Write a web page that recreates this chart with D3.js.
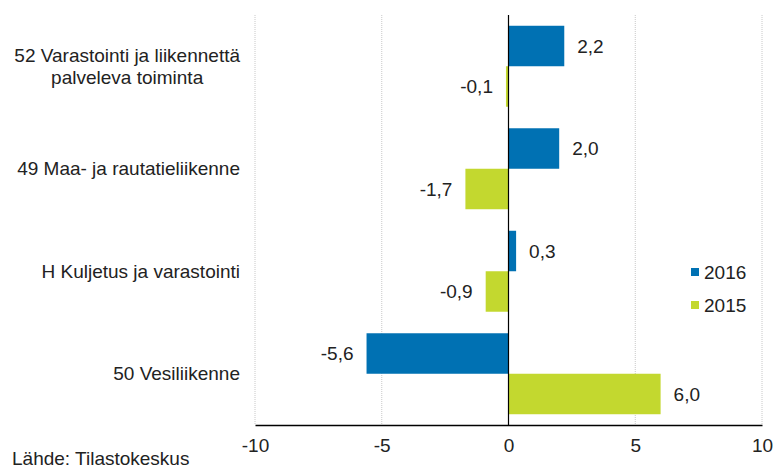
<!DOCTYPE html>
<html>
<head>
<meta charset="utf-8">
<script src="https://cdn.jsdelivr.net/npm/d3@7"></script>
<style>
  body { margin: 0; background: #fff; }
  text { font-family: "Liberation Sans", Arial, sans-serif; fill: #222; }
</style>
</head>
<body>
<svg id="chart" width="776" height="469"></svg>
<script>
// data
const categories = [
  ["52 Varastointi ja liikennettä", "palveleva toiminta"],
  ["49 Maa- ja rautatieliikenne"],
  ["H Kuljetus ja varastointi"],
  ["50 Vesiliikenne"],
];
const series = ["2016", "2015"];
const values2016 = [2.2, 2.0, 0.3, -5.6];
const values2015 = [-0.1, -1.7, -0.9, 6.0];
const xTicks = [-10, -5, 0, 5, 10];
const colors = ["#0071b3", "#c3d82f"];
const source = "Lähde: Tilastokeskus";

const svg = d3.select("#chart");
const m = { top: 15, left: 255, right: 14, bottom: 44 };
const W = 776, H = 469;
const fs = "19px";

const x = d3.scaleLinear().domain([-10, 10]).range([m.left, W - m.right]);
const y = d3.scaleBand()
  .domain(d3.range(categories.length))
  .range([m.top, H - m.bottom])
  .paddingInner(0.21)
  .paddingOuter(0.105);
const ySub = d3.scaleBand().domain(series).range([0, y.bandwidth()]);

const fmt = v => d3.format(".1f")(v).replace(".", ",").replace("−", "-");

// gridlines (dotted)
svg.append("g")
  .selectAll("line")
  .data(xTicks.filter(d => d !== 0))
  .join("line")
  .attr("x1", d => x(d)).attr("x2", d => x(d))
  .attr("y1", m.top).attr("y2", H - m.bottom)
  .attr("stroke", "#c8c8c8")
  .attr("stroke-dasharray", "1,1");

// bars
const rows = categories.map((c, i) => ({ i, vals: [values2016[i], values2015[i]] }));
const grp = svg.append("g")
  .selectAll("g")
  .data(rows)
  .join("g")
  .attr("transform", d => `translate(0,${y(d.i)})`);

grp.selectAll("rect")
  .data(d => d.vals.map((v, k) => ({ v, k })))
  .join("rect")
  .attr("x", d => x(Math.min(0, d.v)))
  .attr("width", d => Math.abs(x(d.v) - x(0)))
  .attr("y", d => ySub(series[d.k]))
  .attr("height", ySub.bandwidth())
  .attr("fill", d => colors[d.k]);

grp.selectAll("text.val")
  .data(d => d.vals.map((v, k) => ({ v, k })))
  .join("text")
  .attr("class", "val")
  .attr("x", d => d.v >= 0 ? x(d.v) + 13 : x(d.v) - 13)
  .attr("y", d => ySub(series[d.k]) + ySub.bandwidth() / 2)
  .attr("dy", "0.35em")
  .attr("text-anchor", d => d.v >= 0 ? "start" : "end")
  .style("font-size", fs)
  .text(d => fmt(d.v));

// zero line
svg.append("line")
  .attr("x1", x(0)).attr("x2", x(0))
  .attr("y1", m.top).attr("y2", H - m.bottom)
  .attr("stroke", "#000").attr("stroke-width", 1.2);

// x axis
const xAxis = svg.append("g")
  .attr("transform", `translate(0,${H - m.bottom})`)
  .call(d3.axisBottom(x).tickValues(xTicks).tickSize(0).tickPadding(14).tickFormat(d => String(d)));
xAxis.select(".domain").attr("stroke", "#000").attr("stroke-width", 1.6);
xAxis.selectAll("text").style("font-size", fs).attr("fill", "#222");

// category labels
svg.append("g")
  .selectAll("text")
  .data(categories.map((lines, i) => ({ lines, i })))
  .join("text")
  .attr("text-anchor", d => d.lines.length > 1 ? "middle" : "end")
  .style("font-size", fs)
  .each(function (d) {
    const t = d3.select(this);
    const cy = y(d.i) + y.bandwidth() / 2;
    const lh = 22;
    if (d.lines.length > 1) {
      // two-line label: centred block, widest line ends at x=240
      t.attr("x", 0);
      const tmp = t.append("tspan").text(d.lines[0]);
      const w = tmp.node().getComputedTextLength();
      tmp.remove();
      t.attr("x", 240 - w / 2);
    } else {
      t.attr("x", 240);
    }
    d.lines.forEach((ln, j) => {
      t.append("tspan")
        .attr("x", t.attr("x"))
        .attr("y", cy + (j - (d.lines.length - 1) / 2) * lh)
        .attr("dy", "0.35em")
        .text(ln);
    });
  });

// legend
const leg = svg.append("g")
  .selectAll("g")
  .data(series)
  .join("g")
  .attr("transform", (d, i) => `translate(691,${268 + i * 33})`);
leg.append("rect").attr("width", 8).attr("height", 8).attr("fill", (d, i) => colors[i]);
leg.append("text").attr("x", 13).attr("y", 4).attr("dy", "0.35em")
  .style("font-size", fs).text(d => d);

// source
svg.append("text")
  .attr("x", 12).attr("y", 465)
  .style("font-size", fs)
  .text(source);
</script>
</body>
</html>
